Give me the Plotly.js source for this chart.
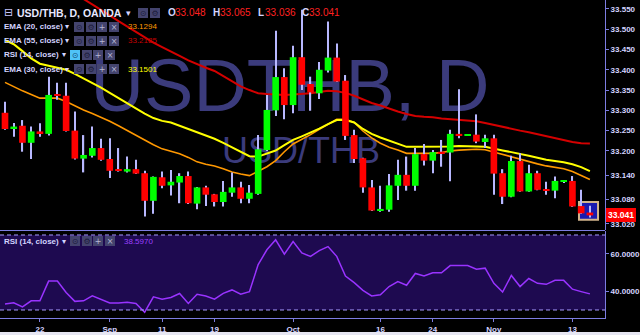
<!DOCTYPE html>
<html><head><meta charset="utf-8">
<script src="https://cdn.plot.ly/plotly-3.0.1.min.js"></script>
<style>html,body{margin:0;padding:0;background:#000;}#chart{width:640px;height:335px;}</style>
</head><body><div id="chart"></div>
<script>
// ---------- DATA ----------
const openP = [33.294,33.256,33.262,33.220,33.248,33.242,33.338,33.336,33.250,33.181,
33.188,33.207,33.180,33.154,33.149,33.155,33.145,33.077,33.135,33.115,
33.122,33.138,33.070,33.110,33.093,33.074,33.097,33.110,33.082,33.094,
33.202,33.300,33.382,33.313,33.431,33.365,33.342,33.398,33.430,33.373,
33.239,33.182,33.110,33.053,33.055,33.114,33.141,33.114,33.192,33.176,
33.198,33.196,33.242,33.238,33.240,33.222,33.231,33.145,33.087,33.175,
33.100,33.145,33.106,33.102,33.124,33.126,33.064,33.048];
const highP = [33.321,33.269,33.276,33.260,33.268,33.383,33.368,33.368,33.297,33.239,
33.260,33.230,33.231,33.207,33.186,33.178,33.151,33.137,33.149,33.153,
33.145,33.149,33.111,33.114,33.094,33.126,33.147,33.124,33.116,33.239,
33.338,33.496,33.404,33.459,33.548,33.383,33.419,33.519,33.465,33.387,
33.252,33.183,33.128,33.114,33.143,33.178,33.186,33.207,33.217,33.202,
33.227,33.252,33.352,33.241,33.290,33.240,33.240,33.155,33.188,33.194,
33.166,33.151,33.124,33.137,33.127,33.138,33.104,33.065];
const lowP = [33.252,33.235,33.198,33.180,33.235,33.238,33.326,33.248,33.179,33.147,
33.184,33.176,33.133,33.149,33.147,33.143,33.038,33.045,33.108,33.090,
33.071,33.069,33.056,33.064,33.063,33.063,33.087,33.071,33.071,33.092,
33.200,33.286,33.278,33.293,33.350,33.299,33.328,33.393,33.370,33.227,
33.170,33.097,33.052,33.050,33.050,33.079,33.102,33.102,33.164,33.145,
33.161,33.125,33.231,33.237,33.219,33.207,33.092,33.069,33.086,33.099,
33.099,33.103,33.092,33.083,33.123,33.062,33.045,33.036];
const closeP = [33.254,33.260,33.220,33.248,33.244,33.338,33.336,33.249,33.181,33.190,
33.207,33.178,33.151,33.151,33.155,33.144,33.077,33.136,33.114,33.124,
33.138,33.071,33.110,33.092,33.074,33.099,33.110,33.082,33.097,33.204,
33.301,33.382,33.313,33.431,33.363,33.344,33.400,33.430,33.371,33.237,
33.180,33.110,33.053,33.057,33.115,33.141,33.114,33.192,33.176,33.197,
33.194,33.242,33.239,33.240,33.223,33.231,33.144,33.087,33.175,33.100,
33.145,33.104,33.102,33.126,33.126,33.063,33.046,33.041];
const ema20 = [33.369,33.358,33.348,33.339,33.330,33.330,33.330,33.322,33.311,33.301,
33.292,33.283,33.273,33.262,33.251,33.239,33.227,33.215,33.205,33.199,
33.193,33.184,33.173,33.167,33.163,33.156,33.148,33.143,33.139,33.150,
33.161,33.176,33.198,33.217,33.228,33.240,33.253,33.265,33.278,33.278,
33.270,33.249,33.232,33.219,33.209,33.202,33.194,33.194,33.194,33.194,
33.196,33.200,33.202,33.203,33.204,33.203,33.197,33.191,33.185,33.180,
33.174,33.168,33.163,33.159,33.156,33.149,33.140,33.1294];
const ema30 = [33.473,33.463,33.446,33.428,33.415,33.410,33.405,33.400,33.390,33.379,
33.368,33.356,33.343,33.330,33.317,33.305,33.292,33.281,33.274,33.270,
33.262,33.253,33.245,33.237,33.230,33.220,33.209,33.198,33.187,33.186,
33.193,33.201,33.214,33.227,33.236,33.245,33.255,33.266,33.276,33.276,
33.270,33.254,33.242,33.233,33.225,33.218,33.210,33.210,33.210,33.210,
33.210,33.211,33.212,33.212,33.211,33.210,33.205,33.201,33.197,33.193,
33.188,33.183,33.178,33.175,33.172,33.167,33.160,33.1501];
const ema55 = [null,null,null,null,null,null,null,null,33.588,33.575,
33.561,33.547,33.534,33.520,33.507,33.493,33.479,33.467,33.456,33.444,
33.434,33.423,33.413,33.405,33.397,33.385,33.372,33.359,33.350,33.342,
33.340,33.339,33.338,33.339,33.340,33.342,33.345,33.348,33.347,33.343,
33.336,33.326,33.318,33.312,33.304,33.297,33.291,33.286,33.284,33.283,
33.280,33.278,33.277,33.275,33.273,33.269,33.264,33.259,33.254,33.250,
33.246,33.241,33.237,33.232,33.227,33.222,33.219,33.2185];
const rsi14 = [33.2,33.8,31.7,34.9,34.9,45.4,45.4,39.3,34.6,34.9,
37.5,35.8,33.7,33.7,34.1,33.5,28.8,37.0,35.8,36.7,
38.8,33.5,38.4,37.5,35.8,38.9,40.7,38.4,39.8,54.2,
62.1,67.4,59.8,66.5,60.4,58.6,61.7,63.8,58.6,48.1,
44.6,40.5,37.5,38.1,42.5,45.1,43.2,49.5,48.1,49.8,
49.8,53.7,53.7,53.7,51.7,52.3,44.2,39.6,48.4,42.5,
46.8,44.2,43.7,45.8,45.8,41.1,39.8,38.597];
const tickIdx = [4,12,18,24,33,43,49,56,65];
const tickLabels = ['22','Sep','11','19','Oct','16','24','Nov','13'];
const priceTicks = [33.020,33.080,33.140,33.200,33.250,33.300,33.350,33.400,33.450,33.500,33.550];
const rsiTicks = [40,60];
const symbolTitle = 'USD/THB, D, OANDA';
const watermarkBig = 'USDTHB, D';
const watermarkSmall = 'USD/THB';

// ---------- STYLE ----------
const FONT = 'Liberation Sans, Arial, sans-serif';
const AX = '#7d7de0';
const TXT = '#d4d4ff';
const UP = '#00ff00', DN = '#ff0000', WICK = '#b8b8ff';
const XR = [-0.573, 68.73];
const YR = [33.005, 33.572];
const RR = [25.73, 72.13];
const PW = 605, PH = 318, PANE = 230;

const N = closeP.length;
const idx = closeP.map((_, i) => i);
const bodyBase = closeP.map((c, i) => Math.min(c, openP[i]));
const bodyLen = closeP.map((c, i) => Math.abs(c - openP[i]));
const bodyCol = closeP.map((c, i) => c >= openP[i] ? UP : DN);
const wickLen = highP.map((h, i) => h - lowP[i]);

const pxToX = p => XR[0] + p / PW * (XR[1] - XR[0]);
const pyToPrice = p => YR[1] - p / PANE * (YR[1] - YR[0]);

const traces = [
  {type:'scatter', mode:'text', x:[pxToX(290)], y:[pyToPrice(92)], text:[watermarkBig],
   textfont:{family:FONT, size:74, color:'#3b3b7c'}, textposition:'middle center', hoverinfo:'skip', xaxis:'x', yaxis:'y'},
  {type:'scatter', mode:'text', x:[pxToX(301)], y:[pyToPrice(153.5)], text:[watermarkSmall],
   textfont:{family:FONT, size:36, color:'#3b3b7c'}, textposition:'middle center', hoverinfo:'skip', xaxis:'x', yaxis:'y'},
  {type:'scatter', mode:'lines', x:idx, y:ema55, line:{color:'#d40000', width:2}, xaxis:'x', yaxis:'y', hoverinfo:'skip'},
  {type:'scatter', mode:'lines', x:idx, y:ema20, line:{color:'#ff9800', width:1.6}, xaxis:'x', yaxis:'y', hoverinfo:'skip'},
  {type:'scatter', mode:'lines', x:idx, y:ema30, line:{color:'#ffff00', width:2}, xaxis:'x', yaxis:'y', hoverinfo:'skip'},
  {type:'bar', x:idx, base:lowP, y:wickLen, width:0.14, marker:{color:WICK, line:{width:0}}, xaxis:'x', yaxis:'y3', hoverinfo:'skip'},
  {type:'bar', x:idx, base:bodyBase, y:bodyLen, width:0.76, marker:{color:bodyCol, line:{width:0}}, xaxis:'x', yaxis:'y3', hoverinfo:'skip'},
  {type:'scatter', mode:'lines', x:idx, y:rsi14, line:{color:'#9933ff', width:1.5}, xaxis:'x', yaxis:'y2', hoverinfo:'skip'}
];

function ann(xpx, ypx, text, font, extra) {
  return Object.assign({xref:'paper', yref:'paper', x:xpx / PW, y:1 - ypx / PH, xanchor:'left', yanchor:'middle',
    showarrow:false, text:text, font:Object.assign({family:FONT, size:8, color:TXT}, font || {})}, extra || {});
}
function icon(xpx, ypx, glyph, bg, fg) {
  return {xref:'paper', yref:'paper', x:xpx / PW, y:1 - ypx / PH, xanchor:'left', yanchor:'middle', showarrow:false,
    text:glyph, bgcolor:bg, width:10, height:10, borderpad:0, borderwidth:0,
    font:{family:'DejaVu Sans', size:8, color:fg}};
}
const IBG = '#44446e', IDK = '#1c1c3a', ILT = '#b8b8d4';
const GLYPHS = ['⊙', '⚙', '+', '×'];
function iconRow(x0, y, highlight) {
  return GLYPHS.map((s, k) => {
    if (k === 0 && highlight) return icon(x0, y, s, '#4fc3f7', '#15507a');
    return icon(x0 + k * 11.5, y, s, IBG, k < 2 ? IDK : ILT);
  });
}
const last = N - 1;
const f3 = v => v.toFixed(3), f4 = v => v.toFixed(4);
const RED = '#ff2020';
let annotations = [
  ann(2, 13, '⊟', {size:11, family:'DejaVu Sans', color:'#c8c8ff'}),
  ann(15, 13, symbolTitle, {size:10.5, weight:'bold', color:'#e8e8ff'}),
  ann(124, 13, '▾', {size:9, family:'DejaVu Sans'}),
  icon(138, 13, '⊙', IBG, IDK), icon(150, 13, '⚙', IBG, IDK),
  ann(166, 13, 'O', {size:10, weight:'bold'}), ann(173, 13, f3(openP[last]), {size:10, color:RED}),
  ann(211, 13, 'H', {size:10, weight:'bold'}), ann(218, 13, f3(highP[last]), {size:10, color:RED}),
  ann(256, 13, 'L', {size:10, weight:'bold'}), ann(263, 13, f3(lowP[last]), {size:10, color:RED}),
  ann(300, 13, 'C', {size:10, weight:'bold'}), ann(307, 13, f3(closeP[last]), {size:10, color:RED}),
  ann(2, 27, 'EMA (20, close)', {weight:'bold'}), ann(63, 27, '▾', {family:'DejaVu Sans'}),
  ann(126, 27, f4(ema20[last]), {color:'#ff9800'}),
  ann(2, 41, 'EMA (55, close)', {weight:'bold'}), ann(63, 41, '▾', {family:'DejaVu Sans'}),
  ann(126, 41, f4(ema55[last]), {color:'#c80000'}),
  ann(2, 55, 'RSI (14, close)', {weight:'bold'}), ann(60, 55, '▾', {family:'DejaVu Sans'}),
  ann(2, 69, 'EMA (30, close)', {weight:'bold'}), ann(63, 69, '▾', {family:'DejaVu Sans'}),
  ann(126, 69, f4(ema30[last]), {color:'#ffff00'}),
  ann(2, 241, 'RSI (14, close)', {weight:'bold'}), ann(60, 241, '▾', {family:'DejaVu Sans'}),
  ann(122, 241, f4(rsi14[last]), {color:'#9c40ff'}),
  {xref:'paper', yref:'y', x:1, y:closeP[last], xanchor:'left', yanchor:'middle', xshift:1, showarrow:false,
   text:f3(closeP[last]), bgcolor:'#ff0000', borderpad:2, borderwidth:0,
   font:{family:FONT, size:8.5, color:'#ffffff', weight:'bold'}}
];
annotations = annotations.concat(iconRow(74, 27), iconRow(74, 41), iconRow(70, 55, true), iconRow(74, 69), iconRow(70, 241));

const shapes = [
  {type:'rect', xref:'paper', yref:'y2', x0:0, x1:1, y0:30, y1:70, fillcolor:'#1e0a50', line:{width:0}, layer:'below'},
  {type:'line', xref:'paper', yref:'y2', x0:0, x1:1, y0:70, y1:70, line:{color:'#a89cff', width:1, dash:'4px,3px'}},
  {type:'line', xref:'paper', yref:'y2', x0:0, x1:1, y0:30, y1:30, line:{color:'#a89cff', width:1, dash:'4px,3px'}},
  {type:'line', xref:'paper', yref:'paper', x0:0, x1:1, y0:1 - 230.5 / PH, y1:1 - 230.5 / PH, line:{color:AX, width:1}},
  {type:'rect', xref:'x', yref:'y', x0:65.75, x1:67.93, y0:33.030, y1:33.074, fillcolor:'#1a1ab0', line:{color:'#d2b48c', width:2}, layer:'below'},
  {type:'rect', xref:'paper', yref:'paper', x0:0, x1:640 / PW, y0:-(332 - PH) / PH, y1:-(336 - PH) / PH, fillcolor:'#e6e6f2', line:{width:0}}
];

const axCommon = {showgrid:false, zeroline:false, showline:true, linecolor:AX, linewidth:1, ticks:'outside', ticklen:3, tickcolor:AX,
  tickfont:{family:FONT, size:8, color:TXT, weight:'bold'}, fixedrange:true};

const layout = {
  width:640, height:335, margin:{l:0, r:35, t:0, b:17, pad:0},
  paper_bgcolor:'#000000', plot_bgcolor:'#000000', showlegend:false, hovermode:false, barmode:'overlay',
  font:{family:FONT, size:8, color:TXT},
  xaxis:Object.assign({}, axCommon, {domain:[0,1], anchor:'y2', range:XR, tickmode:'array', tickvals:tickIdx, ticktext:tickLabels}),
  yaxis:Object.assign({}, axCommon, {domain:[1 - PANE / PH, 1], anchor:'x', side:'right', range:YR, tickmode:'array', tickvals:priceTicks, tickformat:'.3f'}),
  yaxis3:{overlaying:'y', anchor:'x', side:'right', range:YR, visible:false, fixedrange:true},
  yaxis2:Object.assign({}, axCommon, {domain:[0, 1 - 231 / PH], anchor:'x', side:'right', range:RR, tickmode:'array', tickvals:rsiTicks, tickformat:'.4f'}),
  shapes:shapes, annotations:annotations
};

Plotly.newPlot('chart', traces, layout, {displayModeBar:false, responsive:false});
</script>
</body></html>
